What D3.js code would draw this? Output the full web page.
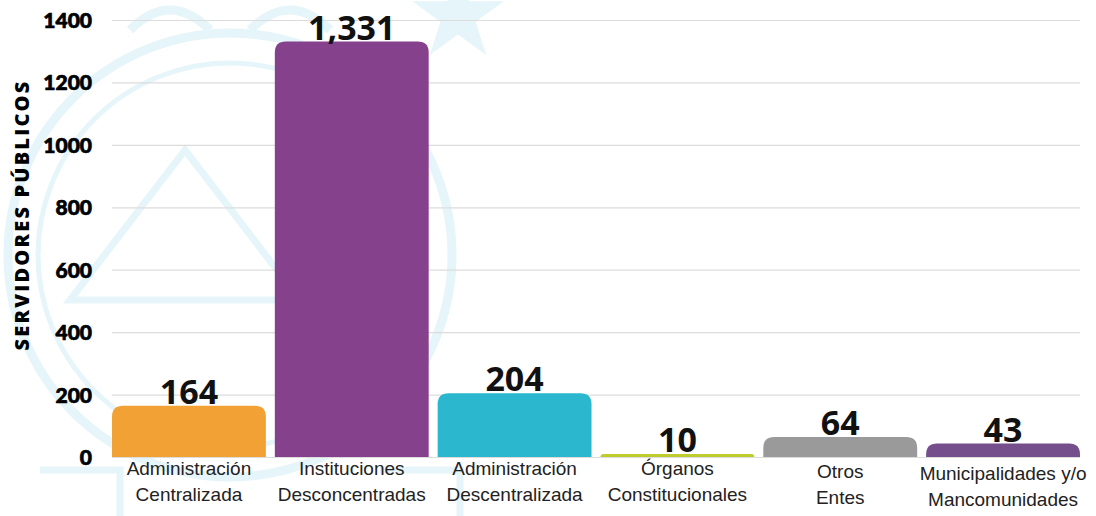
<!DOCTYPE html>
<html>
<head>
<meta charset="utf-8">
<script src="https://cdn.jsdelivr.net/npm/d3@7"></script>
<style>
  html, body { margin: 0; padding: 0; background: #fff; }
  svg { display: block; }
</style>
</head>
<body>
<svg id="chart"></svg>
<script>
// Chart data
const categories = [
    ["Administración", "Centralizada"],
    ["Instituciones", "Desconcentradas"],
    ["Administración", "Descentralizada"],
    ["Órganos", "Constitucionales"],
    ["Otros", "Entes"],
    ["Municipalidades y/o", "Mancomunidades"]
];
const values = [164, 1331, 204, 10, 64, 43];
const barColors = ["#F2A134", "#86418D", "#2BB8CF", "#BFCC2E", "#9A9A9A", "#754E8C"];
const yTicks = [0, 200, 400, 600, 800, 1000, 1200, 1400];
const yLabel = "SERVIDORES PÚBLICOS";

const width = 1096;
const height = 516;
const margins = { top: 20, right: 16, bottom: 59, left: 112 };

const svg = d3.select("#chart")
    .attr("width", width)
    .attr("height", height)
    .attr("viewBox", [0, 0, width, height]);

// faint watermark in the background
const wm = svg.append("g")
    .attr("fill", "none")
    .attr("stroke", "#E5F5F9")
    .attr("stroke-width", 9);
wm.append("circle").attr("cx", 230).attr("cy", 255).attr("r", 222);
wm.append("circle").attr("cx", 230).attr("cy", 255).attr("r", 192).attr("stroke-width", 5);
wm.append("path").attr("d", "M185,150 L300,300 L70,300 Z").attr("stroke-width", 7);
wm.append("path").attr("d", "M130,30 q40,-40 80,0 M250,30 q40,-40 80,0");
wm.append("path").attr("d", "M40,470 h80 v46 M380,470 h80 v46").attr("stroke-width", 7);
wm.append("path")
    .attr("fill", "#E5F5F9").attr("stroke", "none")
    .attr("d", d3.symbol(d3.symbolStar, 2600)())
    .attr("transform", "translate(458,16)");

const x = d3.scaleBand()
    .domain(d3.range(values.length))
    .range([margins.left, width - margins.right])
    .paddingInner(0.055)
    .paddingOuter(0);

const y = d3.scaleLinear()
    .domain([0, 1400])
    .range([height - margins.bottom, margins.top]);

// gridlines
svg.append("g")
    .selectAll("line")
    .data(yTicks)
    .join("line")
        .attr("x1", margins.left)
        .attr("x2", width - margins.right)
        .attr("y1", d => y(d) + 0.5)
        .attr("y2", d => y(d) + 0.5)
        .attr("stroke", "#DCDCDC")
        .attr("stroke-width", 1.2);

// y axis tick labels
const yAxis = d3.axisLeft(y)
    .tickValues(yTicks)
    .tickFormat(d3.format("d"))
    .tickSize(0)
    .tickPadding(20);

svg.append("g")
    .attr("transform", `translate(${margins.left},0)`)
    .call(yAxis)
    .call(g => g.select(".domain").remove())
    .selectAll("text")
        .attr("fill", "#000")
        .attr("stroke", "#000")
        .attr("stroke-width", 0.7)
        .style("font-family", "Lato, 'Noto Sans', sans-serif")
        .style("font-weight", 900)
        .style("font-size", "21px")
        .attr("dy", "0.36em");

// y axis title
svg.append("text")
    .attr("transform", `translate(29,215) rotate(-90)`)
    .attr("text-anchor", "middle")
    .attr("fill", "#000")
    .style("font-family", "'Open Sans', 'Noto Sans', sans-serif")
    .style("font-weight", 800)
    .style("font-size", "20px")
    .style("letter-spacing", "2.2px")
    .text(yLabel);

// rounded-top bar path
function topRounded(x0, y0, w, h, r) {
    r = Math.min(r, h, w / 2);
    return `M${x0},${y0 + h}V${y0 + r}Q${x0},${y0} ${x0 + r},${y0}` +
        `H${x0 + w - r}Q${x0 + w},${y0} ${x0 + w},${y0 + r}V${y0 + h}Z`;
}

svg.append("g")
    .selectAll("path")
    .data(values)
    .join("path")
        .attr("fill", (d, i) => barColors[i])
        .attr("d", (d, i) => topRounded(x(i), y(d), x.bandwidth(), y(0) - y(d), 11));

// value labels
svg.append("g")
    .selectAll("text")
    .data(values)
    .join("text")
        .attr("x", (d, i) => x(i) + x.bandwidth() / 2)
        .attr("y", d => y(d) - 2)
        .attr("text-anchor", "middle")
        .attr("fill", "#111")
        .style("font-family", "'Open Sans', 'Noto Sans', sans-serif")
        .style("font-weight", 700)
        .style("font-size", "34px")
        .text(d => d3.format(",")(d));

// category labels
const catOffset = [0, 0, 0, 0, 3, 5];
const cats = svg.append("g")
    .selectAll("text")
    .data(categories)
    .join("text")
        .attr("x", (d, i) => x(i) + x.bandwidth() / 2)
        .attr("y", (d, i) => y(0) + 18 + catOffset[i])
        .attr("text-anchor", "middle")
        .attr("fill", "#222")
        .style("font-family", "'Liberation Sans', Arial, sans-serif")
        .style("font-size", "19px");
cats.selectAll("tspan")
    .data(d => d)
    .join("tspan")
        .attr("x", function() { return d3.select(this.parentNode).attr("x"); })
        .attr("dy", (d, j) => j === 0 ? 0 : 26)
        .text(d => d);
</script>
</body>
</html>
